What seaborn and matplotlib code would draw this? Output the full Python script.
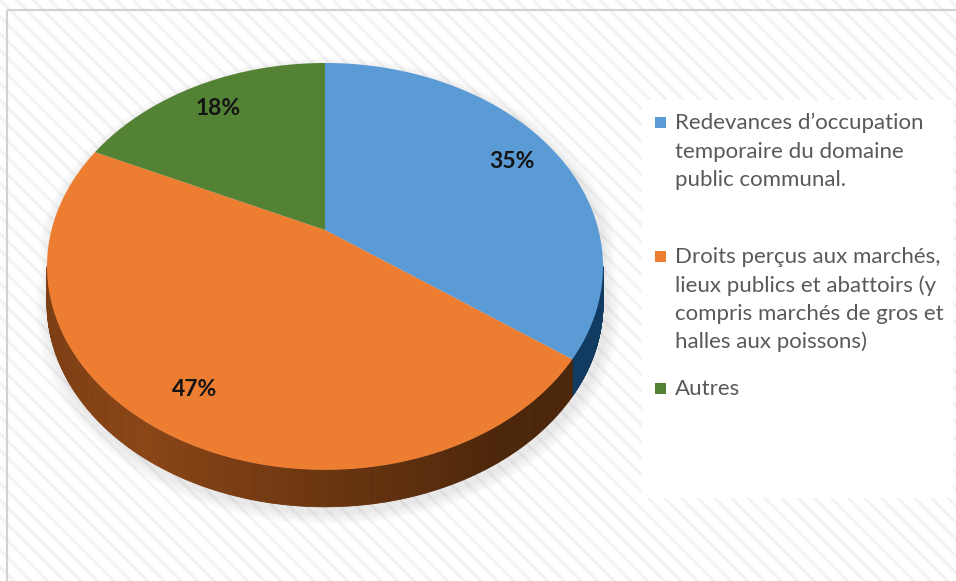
import numpy as np
import matplotlib
matplotlib.use("Agg")
import matplotlib.pyplot as plt
from matplotlib.patches import Rectangle, Polygon
from matplotlib.transforms import Transform, Affine2D
from matplotlib.path import Path
import matplotlib.colors as mcolors
import seaborn as sns

# Revenue categories and their shares (%)
categories = [
    "Redevances d’occupation\ntemporaire du domaine\npublic communal.",
    "Droits perçus aux marchés,\nlieux publics et abattoirs (y\ncompris marchés de gros et\nhalles aux poissons)",
    "Autres",
]
shares = [35, 47, 18]
top_colors = ["#5B9BD5", "#ED7D31", "#548235"]
side_dark = ["#123B62", "#4C260A", "#2E4A1D"]
side_light = ["#1E5487", "#8A4516", "#3E6228"]

sns.set_style("white")
plt.rcParams["font.family"] = ["Lato", "DejaVu Sans"]
plt.rcParams["hatch.linewidth"] = 2.0
palette = sns.color_palette(top_colors)

W, H = 956, 581
fig = plt.figure(figsize=(W / 100, H / 100), dpi=100)

# Background: hatched panel with thin frame and a white legend area
bg = fig.add_axes([0, 0, 1, 1])
bg.set_axis_off()
bg.set_xlim(0, W)
bg.set_ylim(H, 0)
bg.add_patch(Rectangle((0, 0), W, H, facecolor="white", edgecolor="#f2f2f2",
                       hatch="\\" * 2, lw=0))
bg.plot([7, W], [9.5, 9.5], color="#d2d2d2", lw=1.6, solid_capstyle="butt")
bg.plot([7, 7], [9.5, H], color="#d2d2d2", lw=1.6, solid_capstyle="butt")
bg.add_patch(Rectangle((642, 100), 311, 398, facecolor="white", lw=0))


class TiltedDisc(Transform):
    """Perspective view of the unit disc, mapped to pixel coordinates."""
    input_dims = output_dims = 2

    def __init__(self, cx, cy, a, c, k):
        super().__init__()
        self.cx, self.cy, self.a, self.c, self.k = cx, cy, a, c, k

    def transform_non_affine(self, uv):
        uv = np.atleast_2d(np.asarray(uv, float))
        u, v = uv[:, 0], uv[:, 1]
        den = 1.0 + self.k * v
        return np.column_stack([self.cx + self.a * u / den,
                                self.cy - self.c * v / den])

    def transform_path_non_affine(self, path):
        up = Affine2D().scale(1000.0)
        polys = path.to_polygons(transform=up, closed_only=False)
        verts = np.concatenate(polys) / 1000.0
        return Path(self.transform_non_affine(verts), closed=True)


# Disc centre, perspective and rim thickness (pixels)
k = 0.179
persp = TiltedDisc(cx=325, cy=230, a=273.5, c=196.9, k=k)
depth = 37

ax = fig.add_axes([0, 0, 1, 1])
wedges, _, autotexts = ax.pie(
    shares, colors=palette, startangle=90, counterclock=False, radius=1,
    autopct=lambda p: f"{p:.0f}%", pctdistance=0.82,
    wedgeprops=dict(linewidth=0, zorder=3),
    textprops=dict(fontsize=16.5, fontweight="bold", color="#141414"),
)
ax.set_aspect("auto")
ax.set_xlim(0, W)
ax.set_ylim(H, 0)
ax.set_axis_off()
for w in wedges:
    w.set_transform(persp + ax.transData)
for t in autotexts:
    t.set_position(tuple(persp.transform_non_affine(t.get_position())[0]))
    t.set_zorder(4)


def rim_point(theta_deg, drop=0.0):
    r = np.radians(theta_deg)
    p = persp.transform_non_affine((np.cos(r), np.sin(r)))[0]
    return (p[0], p[1] + drop)


# Soft shadow under the disc
t_all = np.linspace(0, 360, 361)
hull = [rim_point(t, depth if np.sin(np.radians(t)) < 0 else 0) for t in t_all]
hull = np.array(hull)
ctr = hull.mean(axis=0)
for grow in [14, 11, 8, 5, 3]:
    sc = 1 + grow / 280.0
    pts = (hull - ctr) * sc + ctr + np.array([3, 5])
    ax.add_patch(Polygon(pts, closed=True, facecolor="#9a9a9a", alpha=0.045,
                         lw=0, zorder=1))

# Rim of the disc, visible between the silhouette's left and right extremes
vis_lo, vis_hi = -180 + np.degrees(np.arcsin(k)), -np.degrees(np.arcsin(k))
cum = np.concatenate([[0], np.cumsum(shares)])
for i in range(len(shares)):
    a0 = 90 - 360 * cum[i] / 100.0
    a1 = 90 - 360 * cum[i + 1] / 100.0
    lo, hi = max(a1, vis_lo), min(a0, vis_hi)
    if lo >= hi:
        continue
    ts = np.linspace(lo, hi, 240)
    c_dark = np.array(mcolors.to_rgb(side_dark[i]))
    c_light = np.array(mcolors.to_rgb(side_light[i]))
    for t1, t2 in zip(ts[:-1], ts[1:]):
        x = np.cos(np.radians(0.5 * (t1 + t2)))
        # lighter towards the left-front, darker to the right
        if x > -0.55:
            wgt = np.clip(1.0 - (x + 0.55) / 1.1, 0, 1)
        else:
            wgt = 0.75 + 0.25 * (x + 1) / 0.45
        col = c_dark + (c_light - c_dark) * wgt
        pts = [rim_point(t1), rim_point(t2),
               rim_point(t2, depth), rim_point(t1, depth)]
        ax.add_patch(Polygon(pts, closed=True, facecolor=col, edgecolor=col,
                             lw=0.6, zorder=2))

# Legend entries: marker plus one text line per row, placed by baseline
legend_base = [129, 263, 395]
line_step = 28.5
for lab, col, yb in zip(categories, palette, legend_base):
    bg.add_patch(Rectangle((655, yb - 12), 11, 11, facecolor=col, lw=0))
    for j, line in enumerate(lab.split("\n")):
        bg.text(675, yb + j * line_step, line, ha="left", va="baseline",
                fontsize=16, color="#595959")

fig.savefig("out.png", dpi=100)
